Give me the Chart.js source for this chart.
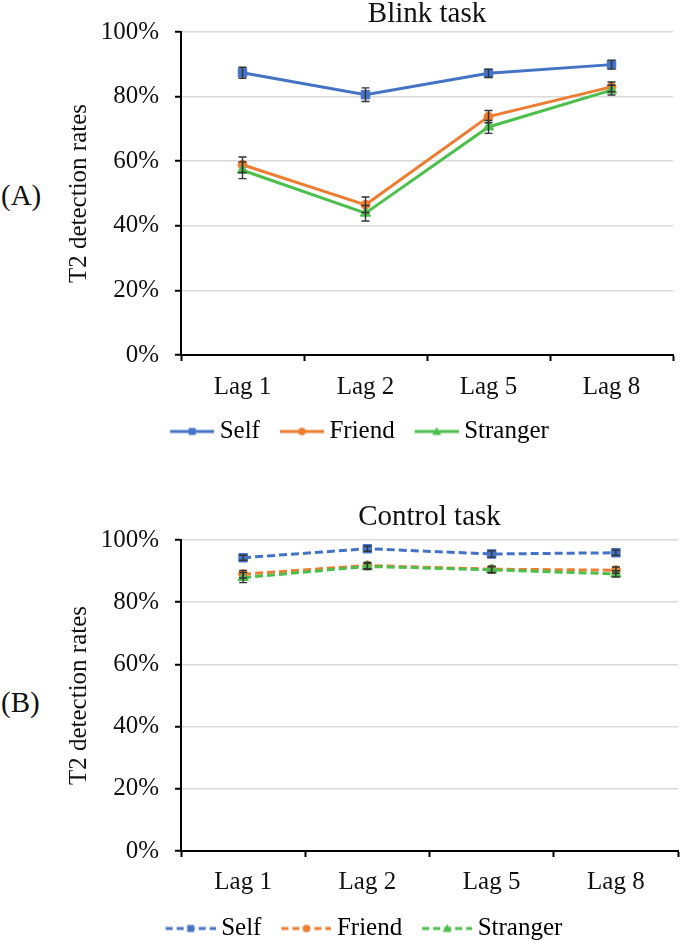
<!DOCTYPE html>
<html>
<head>
<meta charset="utf-8">
<script src="https://cdn.jsdelivr.net/npm/chart.js@4.4.1/dist/chart.umd.min.js"></script>
<style>
html, body { margin: 0; padding: 0; background: #fff; overflow: hidden; width: 685px; height: 942px; }
#wrap { position: relative; width: 685px; height: 942px; overflow: hidden; }
canvas { position: absolute; left: 40px; }
.tag { position: absolute; left: 1px; font: 29px "Liberation Serif", "Times New Roman", serif; color: #111; line-height: 32px; }
</style>
</head>
<body>
<div id="wrap">
  <div class="tag" style="top:179px">(A)</div>
  <canvas id="blink" width="645" height="468" style="top:0"></canvas>
  <div class="tag" style="top:686px">(B)</div>
  <canvas id="control" width="645" height="450" style="top:503px"></canvas>
</div>
<script>
const lags = ['Lag 1', 'Lag 2', 'Lag 5', 'Lag 8'];
const seriesNames = ['Self', 'Friend', 'Stranger'];
const seriesColors = ['#4472C4', '#ED7D31', '#4CBF4C'];
const seriesMarkers = ['rect', 'circle', 'triangle'];

// Blink task (%)
const blinkSelf = [87.4, 80.6, 87.2, 89.9];
const blinkSelfErr = [1.7, 2.1, 1.3, 1.4];
const blinkFriend = [58.9, 46.5, 73.8, 83.0];
const blinkFriendErr = [2.4, 2.4, 1.9, 1.5];
const blinkStranger = [57.2, 43.9, 70.6, 82.0];
const blinkStrangerErr = [2.6, 2.4, 2.0, 1.5];

// Control task (%)
const controlSelf = [94.3, 97.2, 95.5, 95.9];
const controlSelfErr = [0.8, 0.8, 1.0, 0.8];
const controlFriend = [89.0, 91.8, 90.6, 90.3];
const controlFriendErr = [1.2, 1.0, 1.0, 1.0];
const controlStranger = [87.9, 91.5, 90.4, 89.1];
const controlStrangerErr = [1.6, 1.0, 1.0, 1.0];

const serif = '"Liberation Serif", "Times New Roman", serif';

// error bars with caps, drawn on the y scale
const errorBars = {
    id: 'errorBars',
    afterDatasetsDraw(chart) {
        const ctx = chart.ctx, y = chart.scales.y;
        ctx.save();
        ctx.strokeStyle = '#333';
        ctx.lineWidth = 1.4;
        chart.data.datasets.forEach((ds, di) => {
            const meta = chart.getDatasetMeta(di);
            ds.errors.forEach((e, i) => {
                const px = meta.data[i].x;
                const top = y.getPixelForValue(ds.data[i] + e);
                const bot = y.getPixelForValue(ds.data[i] - e);
                ctx.beginPath();
                ctx.moveTo(px, top); ctx.lineTo(px, bot);
                ctx.moveTo(px - 4, top); ctx.lineTo(px + 4, top);
                ctx.moveTo(px - 4, bot); ctx.lineTo(px + 4, bot);
                ctx.stroke();
            });
        });
        ctx.restore();
    }
};

// legend sample: line with the marker in the middle, blank margin on the left
function legendSwatch(color, marker, dashed, len) {
    const pad = 13;
    const c = document.createElement('canvas');
    c.width = len + pad; c.height = 12;
    const g = c.getContext('2d');
    g.strokeStyle = color; g.fillStyle = color; g.lineWidth = 3;
    if (dashed) g.setLineDash([7, 4]);
    g.beginPath(); g.moveTo(pad, 6); g.lineTo(pad + len, 6); g.stroke();
    g.setLineDash([]);
    const m = pad + len / 2;
    g.beginPath();
    if (marker === 'rect') g.rect(m - 3.5, 2.5, 7, 7);
    else if (marker === 'circle') g.arc(m, 6, 3.8, 0, Math.PI * 2);
    else { g.moveTo(m, 1.5); g.lineTo(m + 4.5, 9.5); g.lineTo(m - 4.5, 9.5); g.closePath(); }
    g.fill();
    return c;
}

function makeChart(id, title, values, errors, dashed, o) {
    return new Chart(document.getElementById(id), {
        type: 'line',
        data: {
            labels: lags,
            datasets: values.map((v, k) => ({
                label: seriesNames[k],
                data: v,
                errors: errors[k],
                borderColor: seriesColors[k],
                backgroundColor: seriesColors[k],
                pointStyle: seriesMarkers[k],
                pointRadius: k === 1 ? 4.5 : 6,
                pointBorderWidth: 1,
                borderWidth: 3,
                borderDash: dashed ? [8, 4] : [],
                tension: 0,
                fill: false,
                order: 3 - k
            }))
        },
        options: {
            responsive: false,
            animation: false,
            layout: { padding: { left: 0, right: o.right, top: 0, bottom: o.bottom } },
            plugins: {
                title: {
                    display: true,
                    text: title,
                    fullSize: false,
                    color: '#111',
                    font: { family: serif, size: 29, weight: 'normal', lineHeight: 1 },
                    padding: { top: 0, bottom: o.titleGap }
                },
                legend: {
                    position: 'bottom',
                    labels: {
                        usePointStyle: true,
                        pointStyleWidth: o.swatch - 1,
                        padding: 14,
                        color: '#111',
                        font: { family: serif, size: 25 },
                        generateLabels: chart => chart.data.datasets.map((ds, k) => ({
                            text: ds.label,
                            pointStyle: legendSwatch(seriesColors[k], seriesMarkers[k], dashed, o.swatch),
                            fillStyle: seriesColors[k],
                            strokeStyle: seriesColors[k],
                            lineWidth: 0,
                            hidden: false,
                            datasetIndex: k
                        }))
                    }
                },
                tooltip: { enabled: false }
            },
            scales: {
                x: {
                    offset: true,
                    grid: { offset: true, drawOnChartArea: false, tickLength: 6, tickColor: '#000', tickWidth: 2 },
                    border: { color: '#000', width: 2 },
                    ticks: { color: '#111', font: { family: serif, size: 25 }, padding: o.xPad },
                    afterFit: s => { s.height = o.xHeight; }
                },
                y: {
                    min: 0,
                    max: 100,
                    ticks: {
                        stepSize: 20,
                        callback: v => v + '%',
                        color: '#111',
                        font: { family: serif, size: 25 },
                        padding: 16
                    },
                    grid: {
                        color: c => c.tick && c.tick.value === 0 ? 'rgba(0,0,0,0)' : '#d9d9d9',
                        lineWidth: 1.5,
                        tickLength: 6,
                        tickColor: '#000',
                        tickWidth: 2
                    },
                    border: { color: '#000', width: 2 },
                    title: {
                        display: true,
                        text: 'T2 detection rates',
                        color: '#111',
                        font: { family: serif, size: 25 },
                        padding: { top: 24, bottom: 0 }
                    },
                    afterFit: s => { s.width = 141; }
                }
            }
        },
        plugins: [errorBars]
    });
}

makeChart('blink', 'Blink task',
    [blinkSelf, blinkFriend, blinkStranger],
    [blinkSelfErr, blinkFriendErr, blinkStrangerErr],
    false, { right: 12, bottom: 14, titleGap: 3, swatch: 44, xPad: 11, xHeight: 50 });

makeChart('control', 'Control task',
    [controlSelf, controlFriend, controlStranger],
    [controlSelfErr, controlFriendErr, controlStrangerErr],
    true, { right: 3, bottom: 2, titleGap: 8, swatch: 50, xPad: 10, xHeight: 51 });
</script>
</body>
</html>
